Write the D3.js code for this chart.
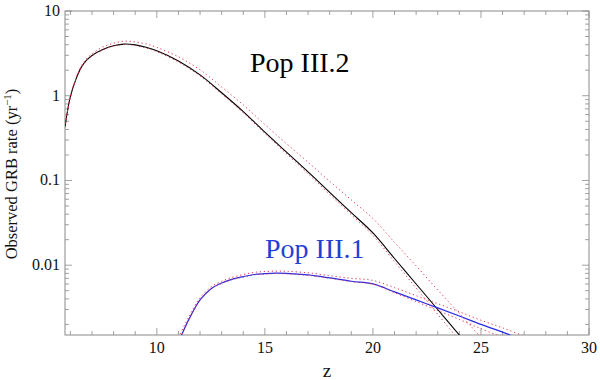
<!DOCTYPE html>
<html>
<head>
<meta charset="utf-8">
<script src="https://cdn.jsdelivr.net/npm/d3@7"></script>
<style>
  html,body{margin:0;padding:0;background:#fff;}
  svg{display:block;}
</style>
</head>
<body>
<svg id="chart" width="600" height="380"></svg>
<script>
/* ── data ── */
var zIII2=[5.75,6,6.25,6.5,6.75,7,7.5,8,8.5,9,9.5,10,11,12,13,14,15,16,17,18,19,20,21,22,23,24,24.5];
var rateIII2=[0.43,0.98,1.55,2.16,2.63,2.99,3.51,3.89,4.07,3.98,3.73,3.39,2.57,1.76,1.084,0.65,0.372,0.216,0.126,0.0724,0.0417,0.024,0.012,0.006,0.003,0.0015,0.00107];
var zIII2hi=[5.75,6,6.25,6.5,6.75,7,7.5,8,8.5,9,9.5,10,11,12,13,14,15,16,17,18,19,20,21,22,23,24,25];
var rateIII2hi=[0.43,1.0,1.59,2.23,2.73,3.12,3.76,4.17,4.41,4.31,4.09,3.72,2.88,2.02,1.27,0.78,0.457,0.272,0.164,0.0977,0.0589,0.0355,0.0186,0.0098,0.0051,0.0027,0.0014];
var zIII2lo=[5.75,6,6.25,6.5,6.75,7,7.5,8,8.5,9,9.5,10,11,12,13,14,15,16,17,18,19,20,21,22,23,24];
var rateIII2lo=[0.42,0.97,1.53,2.14,2.60,2.96,3.47,3.85,4.02,3.92,3.66,3.31,2.50,1.71,1.05,0.63,0.359,0.2065,0.120,0.0684,0.0394,0.0224,0.011,0.00537,0.00263,0.00129];

var zIII1=[11.1,11.5,12,12.5,13,13.5,14,14.5,15,15.5,16,17,18,19,20,21,22,23,24,25,26,27];
var rateIII1=[0.00141,0.00234,0.00389,0.00525,0.00617,0.00684,0.00733,0.00776,0.00794,0.00804,0.0080,0.00767,0.00708,0.00646,0.00603,0.00484,0.00389,0.00313,0.00251,0.0020,0.00162,0.0013];
var zIII1hi=[11,11.5,12,12.5,13,13.5,14,14.5,15,15.5,16,17,18,19,20,21,22,23,24,25,26,27,27.5];
var rateIII1hi=[0.00141,0.00251,0.00412,0.0055,0.00646,0.0072,0.00776,0.00822,0.00841,0.00851,0.00847,0.00813,0.00753,0.0070,0.00661,0.00543,0.00437,0.00351,0.00282,0.00224,0.00182,0.00146,0.00132];
var zIII1lo=[11.1,11.5,12,12.5,13,13.5,14,14.5,15,15.5,16,17,18,19,20,21,22,23,24,25,26];
var rateIII1lo=[0.0014,0.00231,0.00385,0.0052,0.0061,0.00676,0.00725,0.00767,0.00785,0.00795,0.00791,0.00758,0.0070,0.00639,0.00596,0.00473,0.00372,0.00292,0.00229,0.00178,0.00141];

var xTicks=[10,15,20,25,30];
var yTicks=[0.01,0.1,1,10];
var yTickLabels=['0.01','0.1','1','10'];

/* ── layout ── */
var svg=d3.select('#chart');
var ML=65, MR=11, MT=11, MB=45, W=600, H=380;
var pw=W-ML-MR, ph=H-MT-MB;
var FONT='"Liberation Serif","Times New Roman",Times,serif';

var x=d3.scaleLinear().domain([5.75,30]).range([0,pw]);
var y=d3.scaleLog().domain([0.0015,10]).range([ph,0]);

var g=svg.append('g').attr('transform','translate('+ML+','+MT+')');

g.append('clipPath').attr('id','clip').append('rect')
  .attr('x',0).attr('y',0).attr('width',pw).attr('height',ph);

/* minor / major ticks on all four sides */
var xMinor=d3.range(6,31,1);
var yMinor=[];
[0.001,0.01,0.1,1].forEach(function(d){
  for(var k=2;k<=9;k++){ if(d*k>=0.0015 && d*k<=10) yMinor.push(d*k); }
});
var tickCol='#8a8a8a';

function tickLen(isMajor){return isMajor?7:4;}

xMinor.forEach(function(v){
  var maj=xTicks.indexOf(v)>=0, L=tickLen(maj), px=x(v);
  g.append('line').attr('x1',px).attr('x2',px).attr('y1',ph).attr('y2',ph-L).attr('stroke',tickCol).attr('stroke-width',0.8);
  g.append('line').attr('x1',px).attr('x2',px).attr('y1',0).attr('y2',L).attr('stroke',tickCol).attr('stroke-width',0.8);
});
yMinor.concat(yTicks).forEach(function(v){
  var maj=yTicks.indexOf(v)>=0, L=tickLen(maj), py=y(v);
  g.append('line').attr('x1',0).attr('x2',L).attr('y1',py).attr('y2',py).attr('stroke',tickCol).attr('stroke-width',0.8);
  g.append('line').attr('x1',pw).attr('x2',pw-L).attr('y1',py).attr('y2',py).attr('stroke',tickCol).attr('stroke-width',0.8);
});

/* tick labels */
xTicks.forEach(function(v){
  g.append('text').attr('x',x(v)).attr('y',ph+18).attr('text-anchor','middle')
    .attr('font-family',FONT).attr('font-size',16).attr('fill','#111').text(v);
});
yTicks.forEach(function(v,i){
  g.append('text').attr('x',-5).attr('y',y(v)+5).attr('text-anchor','end')
    .attr('font-family',FONT).attr('font-size',16).attr('fill','#111').text(yTickLabels[i]);
});

/* frame */
g.append('rect').attr('x',0).attr('y',0).attr('width',pw).attr('height',ph)
  .attr('fill','none').attr('stroke','#8a8a8a').attr('stroke-width',1);

/* axis titles */
svg.append('text').attr('x',ML+pw/2).attr('y',377).attr('text-anchor','middle')
  .attr('font-family',FONT).attr('font-size',19).attr('fill','#111').text('z');
var yt=svg.append('text').attr('transform','translate(17,174) rotate(-90)').attr('text-anchor','middle')
  .attr('font-family',FONT).attr('font-size',16.5).attr('fill','#111');
yt.append('tspan').text('Observed GRB rate (yr');
yt.append('tspan').attr('font-size',11).attr('dy',-6).text('\u22121');
yt.append('tspan').attr('dy',6).text(')');

/* curves */
var line=d3.line().x(function(d){return x(d[0]);}).y(function(d){return y(d[1]);}).curve(d3.curveCatmullRom.alpha(0.5));
function pairs(zs,vs){return zs.map(function(z,i){return [z,vs[i]];});}

var cg=g.append('g').attr('clip-path','url(#clip)');
cg.append('path').attr('d',line(pairs(zIII2,rateIII2))).attr('fill','none').attr('stroke','#000').attr('stroke-width',1.1);
cg.append('path').attr('d',line(pairs(zIII1,rateIII1))).attr('fill','none').attr('stroke','#2a2ae6').attr('stroke-width',1.2);

[[zIII2hi,rateIII2hi],[zIII2lo,rateIII2lo],[zIII1hi,rateIII1hi],[zIII1lo,rateIII1lo]].forEach(function(s){
  cg.append('path').attr('d',line(pairs(s[0],s[1]))).attr('fill','none')
    .attr('stroke','#e3304a').attr('stroke-width',1).attr('stroke-dasharray','1.2,2.8');
});

/* labels */
svg.append('text').attr('x',250).attr('y',72).attr('font-family',FONT).attr('font-size',28)
  .attr('fill','#000').text('Pop III.2');
svg.append('text').attr('x',265).attr('y',258).attr('font-family',FONT).attr('font-size',28)
  .attr('fill','#1f3fd4').text('Pop III.1');
</script>
</body>
</html>
